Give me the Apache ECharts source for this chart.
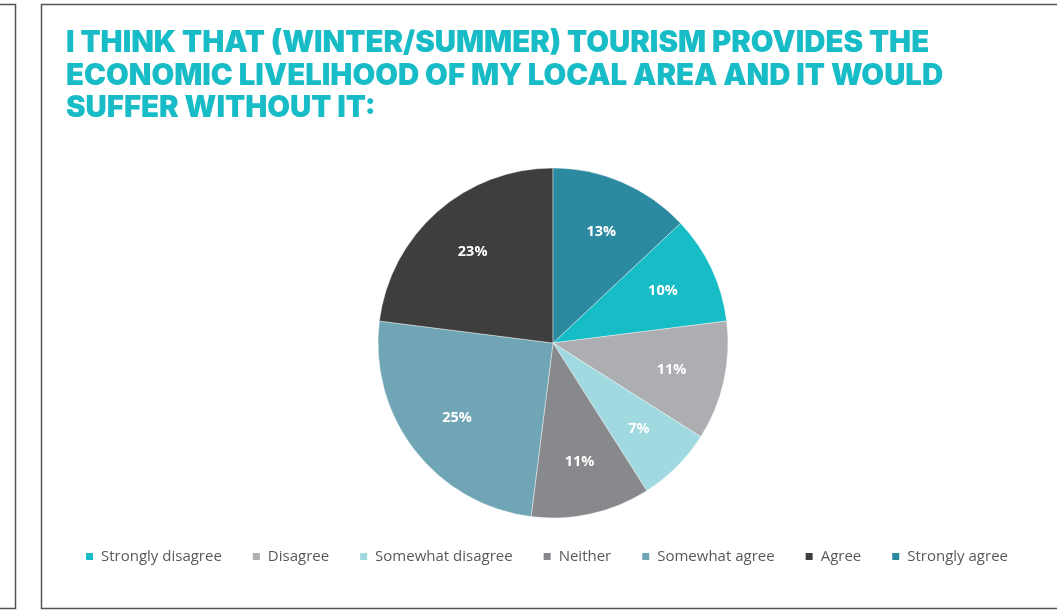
<!DOCTYPE html>
<html>
<head>
<meta charset="utf-8">
<script src="https://cdn.jsdelivr.net/npm/echarts@6/dist/echarts.min.js"></script>
<style>
  html, body { margin: 0; padding: 0; background: #ffffff; }
  #chart { width: 1057px; height: 610px; }
</style>
</head>
<body>
<div id="chart"></div>
<script>
// Survey answers, in legend order
const categories = ['Strongly disagree', 'Disagree', 'Somewhat disagree', 'Neither', 'Somewhat agree', 'Agree', 'Strongly agree'];
const shares = [10, 11, 7, 11, 25, 23, 13];
const sliceColors = ['#16BCC6', '#ADAEB1', '#A0DAE0', '#88898D', '#70A5B6', '#3E3E3F', '#2C8AA0'];
const titleLines = [
  'I THINK THAT (WINTER/SUMMER) TOURISM PROVIDES THE',
  'ECONOMIC LIVELIHOOD OF MY LOCAL AREA AND IT WOULD',
  'SUFFER WITHOUT IT:'
];

// "Strongly agree" sits first clockwise from 12 o'clock, so the first slice begins after it
const total = shares.reduce((a, b) => a + b, 0);
const startAngle = 90 - shares[shares.length - 1] / total * 360;

const pieData = categories.map((name, i) => ({
  name: name,
  value: shares[i],
  itemStyle: { color: sliceColors[i] }
}));

const chart = echarts.init(document.getElementById('chart'), null, { renderer: 'canvas' });

chart.setOption({
  backgroundColor: '#ffffff',
  animation: false,
  title: {
    text: titleLines.join('\n'),
    left: 61,
    top: 22,
    textStyle: {
      fontFamily: 'Inter',
      fontWeight: 900,
      fontSize: 29.4,
      lineHeight: 32.5,
      color: '#17BCC7'
    }
  },
  graphic: [
    // frame of the neighbouring panel
    { type: 'polyline', shape: { points: [[-2, 4.5], [15.5, 4.5], [15.5, 608.5], [-2, 608.5]] },
      style: { stroke: '#555', lineWidth: 1.5, fill: null }, silent: true },
    // frame of this panel
    { type: 'polyline', shape: { points: [[1060, 4.5], [41.5, 4.5], [41.5, 608.5], [1060, 608.5]] },
      style: { stroke: '#555', lineWidth: 1.5, fill: null }, silent: true }
  ],
  legend: {
    data: categories,
    bottom: 46,
    left: 84,
    padding: 0,
    itemWidth: 9,
    itemHeight: 9,
    itemGap: 29,
    icon: 'rect',
    textStyle: { fontFamily: 'Open Sans', fontSize: 15, color: '#595959', padding: [0, 0, 0, 2] }
  },
  series: [
    {
      type: 'pie',
      center: [553, 343],
      radius: [0, 175],
      startAngle: startAngle,
      clockwise: true,
      label: { show: false },
      labelLine: { show: false },
      itemStyle: { borderColor: '#ffffff', borderWidth: 0.4 },
      data: pieData
    },
    {
      // carries the percentage labels, placed around two thirds of the radius
      type: 'pie',
      center: [553, 343],
      radius: [62, 175],
      startAngle: startAngle,
      clockwise: true,
      silent: true,
      itemStyle: { color: 'rgba(0,0,0,0)' },
      label: {
        show: true,
        position: 'inside',
        formatter: p => p.value + '%',
        color: '#ffffff',
        fontFamily: 'Open Sans',
        fontWeight: 'bold',
        fontSize: 14.5
      },
      labelLine: { show: false },
      data: categories.map((name, i) => ({ name: name, value: shares[i] }))
    }
  ]
});
</script>
</body>
</html>
